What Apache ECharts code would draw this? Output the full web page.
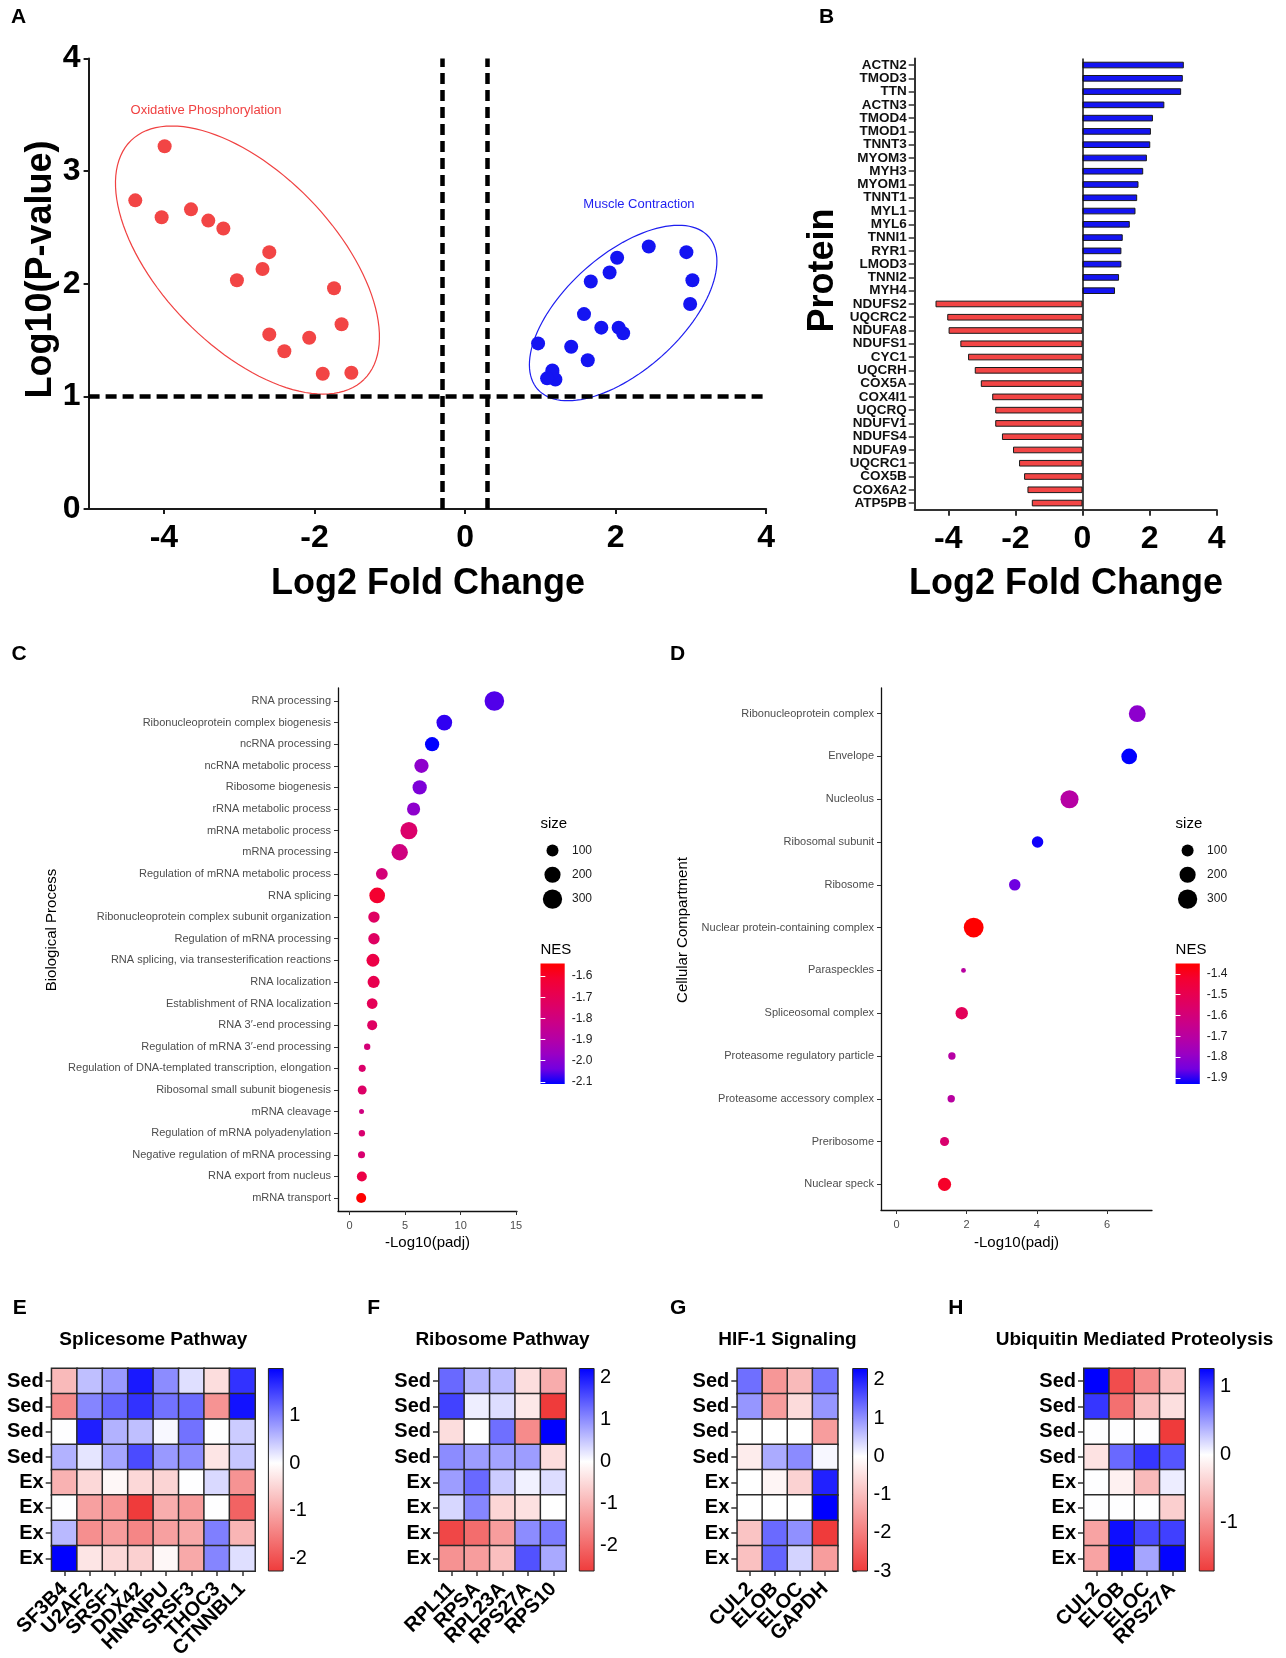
<!DOCTYPE html>
<html>
<head>
<meta charset="utf-8">
<title>Proteomic and pathway analysis</title>
<script src="https://cdn.jsdelivr.net/npm/echarts@6/dist/echarts.min.js"></script>
<style>
  html, body { margin: 0; padding: 0; background: #ffffff; }
  #chart { width: 1286px; height: 1658px; }
</style>
</head>
<body>
<div id="chart"></div>
<script>
// ---------- A / B: differentially abundant proteins ----------
const proteins = ['ACTN2','TMOD3','TTN','ACTN3','TMOD4','TMOD1','TNNT3','MYOM3','MYH3','MYOM1','TNNT1','MYL1','MYL6','TNNI1','RYR1','LMOD3','TNNI2','MYH4',
  'NDUFS2','UQCRC2','NDUFA8','NDUFS1','CYC1','UQCRH','COX5A','COX4I1','UQCRQ','NDUFV1','NDUFS4','NDUFA9','UQCRC1','COX5B','COX6A2','ATP5PB'];
const log2FC = [3.02, 2.99, 2.94, 2.44, 2.10, 2.04, 2.02, 1.92, 1.81, 1.67, 1.63, 1.58, 1.41, 1.20, 1.16, 1.16, 1.09, 0.97,
  -4.38, -4.03, -3.99, -3.64, -3.41, -3.21, -3.03, -2.69, -2.60, -2.60, -2.40, -2.07, -1.89, -1.74, -1.64, -1.51];
const log10P = [2.03, 1.82, 2.28, 2.33, 1.56, 1.61, 2.23, 2.10, 1.61, 2.02, 1.32, 1.73, 1.44, 1.15, 1.23, 1.21, 1.16, 1.47,
  2.74, 2.59, 3.22, 2.66, 2.56, 2.49, 2.03, 2.13, 2.28, 1.55, 1.40, 1.52, 1.20, 1.96, 1.64, 1.21];
const fcCutoff = 0.3;
const pCutoff = 1;
const fcTicks = [-4, -2, 0, 2, 4];

// enrichment clusters outlined on the volcano plot (data units)
const clusters = [
  { name: 'Oxidative Phosphorylation', center: [-2.89, 2.21], major: [1.548, -1.060], minor: [-0.823, -0.541], labelAt: [-3.44, 3.54], color: '#F04141' },
  { name: 'Muscle Contraction', center: [2.10, 1.74], major: [1.136, 0.677], minor: [0.510, -0.385], labelAt: [2.31, 2.70], color: '#1E1EF0' }
];

// ---------- C: GO biological process ----------
const bpTerms = ['RNA processing','Ribonucleoprotein complex biogenesis','ncRNA processing','ncRNA metabolic process','Ribosome biogenesis',
  'rRNA metabolic process','mRNA metabolic process','mRNA processing','Regulation of mRNA metabolic process','RNA splicing',
  'Ribonucleoprotein complex subunit organization','Regulation of mRNA processing','RNA splicing, via transesterification reactions',
  'RNA localization','Establishment of RNA localization','RNA 3\u2032-end processing','Regulation of mRNA 3\u2032-end processing',
  'Regulation of DNA-templated transcription, elongation','Ribosomal small subunit biogenesis','mRNA cleavage',
  'Regulation of mRNA polyadenylation','Negative regulation of mRNA processing','RNA export from nucleus','mRNA transport'];
const bpPadj = [13.04, 8.53, 7.43, 6.47, 6.31, 5.76, 5.34, 4.51, 2.90, 2.48, 2.19, 2.19, 2.10, 2.16, 2.03, 2.03, 1.58, 1.13, 1.13, 1.07, 1.10, 1.07, 1.10, 1.04];
const bpSize = [310, 188, 151, 151, 151, 125, 228, 207, 96, 188, 88, 88, 119, 102, 76, 64, 19, 26, 48, 9, 19, 26, 64, 64];
const bpNES = [-2.06, -2.08, -2.11, -1.99, -2.02, -1.99, -1.75, -1.80, -1.78, -1.61, -1.73, -1.73, -1.66, -1.68, -1.70, -1.73, -1.78, -1.75, -1.74, -1.80, -1.76, -1.76, -1.66, -1.54];
const bpTicks = [0, 5, 10, 15];
const bpNesTicks = [-2.1, -2.0, -1.9, -1.8, -1.7, -1.6];

// ---------- D: GO cellular compartment ----------
const ccTerms = ['Ribonucleoprotein complex','Envelope','Nucleolus','Ribosomal subunit','Ribosome','Nuclear protein-containing complex',
  'Paraspeckles','Spliceosomal complex','Proteasome regulatory particle','Proteasome accessory complex','Preribosome','Nuclear speck'];
const ccPadj = [6.86, 6.63, 4.93, 4.02, 3.37, 2.20, 1.91, 1.86, 1.58, 1.56, 1.37, 1.37];
const ccSize = [222, 188, 259, 90, 90, 317, 8, 108, 29, 29, 50, 125];
const ccNES = [-1.81, -1.93, -1.71, -1.92, -1.86, -1.35, -1.70, -1.52, -1.71, -1.70, -1.57, -1.41];
const ccTicks = [0, 2, 4, 6];
const ccNesTicks = [-1.9, -1.8, -1.7, -1.6, -1.5, -1.4];

const sizeLegend = [100, 200, 300];

// ---------- E-H: pathway heat maps (row z-scores) ----------
const sampleGroups = ['Sed', 'Sed', 'Sed', 'Sed', 'Ex', 'Ex', 'Ex', 'Ex'];

const spliceGenes = ['SF3B4', 'U2AF2', 'SRSF1', 'DDX42', 'HNRNPU', 'SRSF3', 'THOC3', 'CTNNBL1'];
const spliceZ = [
  [-0.80, 0.50, 0.80, 1.80, 0.90, 0.25, -0.40, 1.60],
  [-1.35, 0.95, 1.20, 1.60, 1.10, 1.15, -1.25, 1.85],
  [0.00, 1.75, 0.60, 0.50, 0.05, 1.10, 0.00, 0.40],
  [0.60, 0.20, 0.70, 1.40, 0.80, 0.90, -0.30, 0.45],
  [-0.90, -0.45, -0.10, -0.45, -0.50, 0.00, 0.30, -1.25],
  [0.00, -1.10, -1.20, -2.27, -0.95, -1.15, 0.00, -1.80],
  [0.55, -1.30, -1.15, -1.40, -1.10, -1.00, 1.00, -0.85],
  [1.99, -0.30, -0.45, -0.55, -0.10, -1.00, 0.95, 0.25]
];

const ribosomeGenes = ['RPL11', 'RPSA', 'RPL23A', 'RPS27A', 'RPS10'];
const ribosomeZ = [
  [1.30, 0.65, 0.60, -0.45, -1.10],
  [1.65, 0.15, 0.30, -0.30, -2.61],
  [-0.45, 0.00, 1.25, -1.55, 2.22],
  [1.00, 0.85, 0.80, 0.85, -0.45],
  [0.85, 1.30, 0.45, 0.12, 0.30],
  [0.35, 1.05, -0.55, -0.40, 0.00],
  [-2.45, -1.95, -1.30, 1.00, 1.15],
  [-1.45, -1.30, -0.85, 1.50, 0.75]
];

const hifGenes = ['CUL2', 'ELOB', 'ELOC', 'GAPDH'];
const hifZ = [
  [1.30, -1.60, -1.05, 1.25],
  [0.95, -1.50, -0.55, 0.95],
  [0.00, 0.00, 0.00, -1.50],
  [-0.30, 0.75, 1.05, 0.07],
  [0.00, -0.15, -0.70, 2.00],
  [0.00, 0.00, 0.00, 2.30],
  [-0.90, 1.35, 1.00, -3.00],
  [-0.95, 1.40, 0.40, -1.50]
];

const ubqGenes = ['CUL2', 'ELOB', 'ELOC', 'RPS27A'];
const ubqZ = [
  [1.27, -1.55, -1.00, -0.50],
  [1.00, -1.25, -0.55, -0.28],
  [0.00, 0.00, 0.00, -1.71],
  [-0.25, 0.75, 1.00, 0.85],
  [0.00, -0.12, -0.60, 0.09],
  [0.00, 0.00, 0.00, -0.42],
  [-0.80, 1.20, 0.90, 0.95],
  [-0.80, 1.25, 0.45, 1.25]
];

// ---------- styling ----------
const FONT = "'Liberation Sans', Arial, Helvetica, sans-serif";
const UP_COLOR = '#1414F2';
const DOWN_COLOR = '#F24545';
// red -> blue gradient interpolated in Lab space (blue end first)
const nesStops = ['#0000FF', '#7300E0', '#9A00C3', '#B500A5', '#C90089', '#DA006C', '#E8004F', '#F40031', '#FF0000'];
const HEAT_LOW = [239, 59, 59];
const HEAT_HIGH = [0, 0, 255];

function heatColor(v, lo, hi) {
  const end = v >= 0 ? HEAT_HIGH : HEAT_LOW;
  const t = v >= 0 ? (hi > 0 ? v / hi : 0) : (lo < 0 ? v / lo : 0);
  const k = Math.max(0, Math.min(1, t));
  const ch = i => Math.round(255 + (end[i] - 255) * k);
  return 'rgb(' + ch(0) + ',' + ch(1) + ',' + ch(2) + ')';
}
const sizeToDiameter = s => 2 + Math.sqrt(s);

const option = {
  animation: false,
  backgroundColor: '#ffffff',
  textStyle: { fontFamily: FONT },
  grid: [], xAxis: [], yAxis: [], series: [], visualMap: [], graphic: []
};
const push = (arr, item) => { arr.push(item); return arr.length - 1; };
const grid = (left, top, width, height) =>
  push(option.grid, { left, top, width, height, containLabel: false, outerBoundsMode: 'none' });

function text(str, x, y, size, opts) {
  opts = opts || {};
  option.graphic.push({
    type: 'text', x, y, silent: true, rotation: opts.rotate ? Math.PI / 2 : 0,
    style: {
      text: str, fill: opts.color || '#000',
      font: (opts.weight || 'normal') + ' ' + size + 'px ' + FONT,
      align: opts.align || 'center', verticalAlign: 'middle'
    }
  });
}

// ---------- A: volcano plot ----------
const gA = grid(88.6, 58.4, 677.6, 450.6);
const xA = push(option.xAxis, {
  gridIndex: gA, type: 'value', min: -5, max: 4,
  axisLine: { show: true, onZero: false, lineStyle: { color: '#1a1a1a', width: 2 } },
  axisTick: { show: true, customValues: fcTicks, length: 5, lineStyle: { color: '#1a1a1a', width: 2 } },
  axisLabel: { customValues: fcTicks, fontSize: 32, fontWeight: 'bold', color: '#000', margin: 13, fontFamily: FONT },
  splitLine: { show: false }
});
const yA = push(option.yAxis, {
  gridIndex: gA, type: 'value', min: 0, max: 4, interval: 1,
  axisLine: { show: true, onZero: false, lineStyle: { color: '#1a1a1a', width: 2 } },
  axisTick: { show: true, length: 5, lineStyle: { color: '#1a1a1a', width: 2 } },
  axisLabel: { fontSize: 32, fontWeight: 'bold', color: '#000', margin: 8, fontFamily: FONT },
  splitLine: { show: false }
});
push(option.series, {
  type: 'custom', xAxisIndex: xA, yAxisIndex: yA, silent: true, z: 1,
  data: clusters.map(c => c.center),
  renderItem: (params, api) => {
    const c = clusters[params.dataIndex];
    const pts = [];
    for (let k = 0; k <= 120; k++) {
      const t = k / 120 * Math.PI * 2;
      pts.push(api.coord([
        c.center[0] + c.major[0] * Math.cos(t) + c.minor[0] * Math.sin(t),
        c.center[1] + c.major[1] * Math.cos(t) + c.minor[1] * Math.sin(t)
      ]));
    }
    const lp = api.coord(c.labelAt);
    return {
      type: 'group', children: [
        { type: 'polyline', shape: { points: pts }, style: { fill: null, stroke: c.color, lineWidth: 1.2 } },
        { type: 'text', x: lp[0], y: lp[1], style: { text: c.name, fill: c.color, font: '13px ' + FONT, align: 'center', verticalAlign: 'middle' } }
      ]
    };
  }
});
push(option.series, {
  type: 'scatter', xAxisIndex: xA, yAxisIndex: yA, symbolSize: 14, z: 3,
  emphasis: { disabled: true },
  data: proteins.map((p, i) => ({ name: p, value: [log2FC[i], log10P[i]] })),
  itemStyle: { color: p => (p.value[0] > 0 ? UP_COLOR : DOWN_COLOR), opacity: 1 },
  markLine: {
    silent: true, symbol: 'none', animation: false, label: { show: false },
    lineStyle: { color: '#000', width: 4.5, type: [11, 6] },
    emphasis: { disabled: true },
    data: [{ yAxis: pCutoff }, { xAxis: -fcCutoff }, { xAxis: fcCutoff }]
  }
});
text('Log2 Fold Change', 428, 583.7, 36, { weight: 'bold' });
text('Log10(P-value)', 41, 269.5, 36, { weight: 'bold', rotate: true });
text('A', 11, 17.5, 21, { weight: 'bold', align: 'left' });

// ---------- B: fold-change bars ----------
const gB = grid(914.7, 58.4, 302, 451.3);
const xB = push(option.xAxis, {
  gridIndex: gB, type: 'value', min: -5, max: 4,
  axisLine: { show: true, onZero: false, lineStyle: { color: '#333', width: 2 } },
  axisTick: { show: true, customValues: fcTicks, length: 6, lineStyle: { color: '#333', width: 2 } },
  axisLabel: { customValues: fcTicks, fontSize: 32, fontWeight: 'bold', color: '#000', margin: 13, fontFamily: FONT },
  splitLine: { show: false }
});
const yB = push(option.yAxis, {
  gridIndex: gB, type: 'category', data: proteins, inverse: true,
  axisLine: { show: true, onZero: false, lineStyle: { color: '#333', width: 2 } },
  axisTick: { show: true, alignWithLabel: true, length: 6, lineStyle: { color: '#333', width: 1.5 } },
  axisLabel: { interval: 0, fontSize: 13.5, fontWeight: 'bold', color: '#111', margin: 8, fontFamily: FONT },
  splitLine: { show: false }
});
push(option.series, {
  type: 'bar', xAxisIndex: xB, yAxisIndex: yB, barWidth: '50%',
  emphasis: { disabled: true },
  data: log2FC,
  itemStyle: { color: p => (p.value > 0 ? UP_COLOR : DOWN_COLOR), borderColor: '#1a1a1a', borderWidth: 1 },
  markLine: {
    silent: true, symbol: 'none', animation: false, label: { show: false },
    lineStyle: { color: '#111', width: 1.5, type: 'solid' },
    emphasis: { disabled: true },
    data: [{ xAxis: 0 }]
  }
});
text('Log2 Fold Change', 1066, 583.7, 36, { weight: 'bold' });
text('Protein', 823, 270.5, 36, { weight: 'bold', rotate: true });
text('B', 819, 17.5, 21, { weight: 'bold', align: 'left' });

// ---------- C / D: GSEA dot plots ----------
function nesColorbar(left, top, width, height, lo, hi, ticks) {
  const g = grid(left, top, width, height);
  const x = push(option.xAxis, { gridIndex: g, type: 'value', min: 0, max: 1, show: false });
  const tickStyle = { show: true, inside: true, length: width / 5, customValues: ticks, lineStyle: { color: '#fff', width: 1 } };
  const yR = push(option.yAxis, {
    gridIndex: g, type: 'value', min: lo, max: hi, position: 'right', z: 10,
    axisLine: { show: false }, splitLine: { show: false }, axisTick: tickStyle,
    axisLabel: { customValues: ticks, formatter: v => v.toFixed(1), fontSize: 12, color: '#1a1a1a', margin: 7, fontFamily: FONT }
  });
  push(option.yAxis, {
    gridIndex: g, type: 'value', min: lo, max: hi, position: 'left', z: 10,
    axisLine: { show: false }, splitLine: { show: false }, axisLabel: { show: false }, axisTick: tickStyle
  });
  push(option.series, {
    type: 'custom', xAxisIndex: x, yAxisIndex: yR, silent: true, z: 1,
    data: [[0.5, (lo + hi) / 2]],
    renderItem: params => ({
      type: 'rect',
      shape: { x: params.coordSys.x, y: params.coordSys.y, width: params.coordSys.width, height: params.coordSys.height },
      style: { fill: new echarts.graphic.LinearGradient(0, 1, 0, 0, nesStops.map((c, i) => ({ offset: i / (nesStops.length - 1), color: c }))) }
    })
  });
}

function dotPanel(cfg) {
  const g = grid(cfg.left, 688, cfg.width, cfg.height);
  const x = push(option.xAxis, {
    gridIndex: g, type: 'value', min: cfg.xMin, max: cfg.xMax,
    axisLine: { show: true, onZero: false, lineStyle: { color: '#111', width: 1.3 } },
    axisTick: { show: true, customValues: cfg.ticks, length: 4, lineStyle: { color: '#333', width: 1 } },
    axisLabel: { customValues: cfg.ticks, fontSize: 11, color: '#4d4d4d', margin: 9, fontFamily: FONT },
    splitLine: { show: false }
  });
  const idx = cfg.terms.map((t, i) => i);
  const y = push(option.yAxis, {
    gridIndex: g, type: 'value', inverse: true, min: -0.6, max: cfg.terms.length - 0.4,
    axisLine: { show: true, onZero: false, lineStyle: { color: '#111', width: 1.3 } },
    axisTick: { show: true, customValues: idx, length: 4, lineStyle: { color: '#333', width: 1 } },
    axisLabel: { customValues: idx, formatter: v => cfg.terms[Math.round(v)], fontSize: 11, color: '#4d4d4d', margin: 7, fontFamily: FONT },
    splitLine: { show: false }
  });
  const lo = Math.min(...cfg.nes), hi = Math.max(...cfg.nes);
  const s = push(option.series, {
    type: 'scatter', xAxisIndex: x, yAxisIndex: y, emphasis: { disabled: true },
    data: cfg.terms.map((t, i) => ({ name: t, value: [cfg.padj[i], i, cfg.size[i], cfg.nes[i]] })),
    symbolSize: v => sizeToDiameter(v[2]),
    itemStyle: { opacity: 1 }
  });
  option.visualMap.push({ type: 'continuous', show: false, seriesIndex: s, dimension: 3, min: lo, max: hi, inRange: { color: nesStops } });

  // legends
  const lx = cfg.legendX;
  text('size', lx, 824, 15, { align: 'left' });
  sizeLegend.forEach((v, i) => {
    const cy = 850.5 + i * 24.3;
    option.graphic.push({ type: 'circle', silent: true, shape: { cx: lx + 12, cy, r: sizeToDiameter(v) / 2 }, style: { fill: '#000' } });
    text(String(v), lx + 31.5, cy, 12, { align: 'left', color: '#1a1a1a' });
  });
  text('NES', lx, 949.5, 15, { align: 'left' });
  nesColorbar(lx, 963.5, 24.2, 120.5, lo, hi, cfg.nesTicks);

  text('-Log10(padj)', cfg.left + cfg.width / 2, 1242.7, 15);
  text(cfg.yTitle, cfg.yTitleX, 930, 15, { rotate: true });
}

dotPanel({ left: 338, width: 179, height: 523, xMin: -1.05, xMax: 15.08, ticks: bpTicks, terms: bpTerms, padj: bpPadj, size: bpSize, nes: bpNES,
  nesTicks: bpNesTicks, legendX: 540.5, yTitle: 'Biological Process', yTitleX: 51.8 });
dotPanel({ left: 881, width: 271, height: 522, xMin: -0.44, xMax: 7.28, ticks: ccTicks, terms: ccTerms, padj: ccPadj, size: ccSize, nes: ccNES,
  nesTicks: ccNesTicks, legendX: 1175.6, yTitle: 'Cellular Compartment', yTitleX: 682.4 });
text('C', 11.4, 654, 21, { weight: 'bold', align: 'left' });
text('D', 670, 654.5, 21, { weight: 'bold', align: 'left' });

// ---------- E-H: heat maps ----------
function heatPanel(cfg) {
  const top = 1368.5, height = 202.5;
  const g = grid(cfg.left, top, cfg.width, height);
  const x = push(option.xAxis, {
    gridIndex: g, type: 'category', data: cfg.genes,
    axisLine: { show: true, lineStyle: { color: '#333', width: 1 } },
    axisTick: { show: true, alignWithLabel: true, length: 5, lineStyle: { color: '#333', width: 1.5 } },
    axisLabel: { interval: 0, rotate: 45, fontSize: 20, fontWeight: 'bold', color: '#000', margin: 15, fontFamily: FONT },
    splitLine: { show: false }
  });
  const y = push(option.yAxis, {
    gridIndex: g, type: 'category', data: sampleGroups, inverse: true,
    axisLine: { show: true, lineStyle: { color: '#333', width: 1 } },
    axisTick: { show: true, alignWithLabel: true, length: 6, lineStyle: { color: '#333', width: 1.5 } },
    axisLabel: { interval: 0, fontSize: 20, fontWeight: 'bold', color: '#000', margin: 8, fontFamily: FONT },
    splitLine: { show: false }
  });
  const cells = [];
  cfg.z.forEach((row, r) => row.forEach((v, c) => cells.push([c, r, v])));
  const vals = cells.map(d => d[2]);
  const lo = Math.min(...vals), hi = Math.max(...vals);
  const s = push(option.series, {
    type: 'heatmap', xAxisIndex: x, yAxisIndex: y, data: cells,
    emphasis: { disabled: true },
    itemStyle: { borderColor: '#2a2a2a', borderWidth: 1.5 }
  });
  const steps = [];
  for (let i = 0; i <= 200; i++) steps.push(heatColor(lo + (hi - lo) * i / 200, lo, hi));
  option.visualMap.push({ type: 'continuous', show: false, seriesIndex: s, dimension: 2, min: lo, max: hi, inRange: { color: steps } });

  // colour scale
  const gc = grid(cfg.cbarLeft, top, 14.8, height);
  const cx = push(option.xAxis, { gridIndex: gc, type: 'value', min: 0, max: 1, show: false });
  const cy = push(option.yAxis, {
    gridIndex: gc, type: 'value', min: lo, max: hi, position: 'right',
    axisLine: { show: false }, splitLine: { show: false },
    axisTick: { show: true, customValues: cfg.ticks, length: 4, lineStyle: { color: '#333', width: 1.2 } },
    axisLabel: { customValues: cfg.ticks, fontSize: 20, color: '#000', margin: 6, fontFamily: FONT }
  });
  const zeroAt = (0 - lo) / (hi - lo);
  push(option.series, {
    type: 'custom', xAxisIndex: cx, yAxisIndex: cy, silent: true,
    data: [[0.5, (lo + hi) / 2]],
    renderItem: params => ({
      type: 'rect',
      shape: { x: params.coordSys.x, y: params.coordSys.y, width: params.coordSys.width, height: params.coordSys.height },
      style: {
        stroke: '#222', lineWidth: 1,
        fill: new echarts.graphic.LinearGradient(0, 1, 0, 0, [
          { offset: 0, color: heatColor(lo, lo, hi) },
          { offset: zeroAt, color: '#ffffff' },
          { offset: 1, color: heatColor(hi, lo, hi) }
        ])
      }
    })
  });
  text(cfg.title, cfg.left + cfg.width / 2, 1339.3, 19, { weight: 'bold' });
  text(cfg.letter, cfg.letterX, 1308.5, 21, { weight: 'bold', align: 'left' });
}

heatPanel({ title: 'Splicesome Pathway', genes: spliceGenes, z: spliceZ, left: 51.7, width: 203.3, cbarLeft: 268.4, ticks: [-2, -1, 0, 1], letter: 'E', letterX: 12.7 });
heatPanel({ title: 'Ribosome Pathway', genes: ribosomeGenes, z: ribosomeZ, left: 439, width: 127, cbarLeft: 579.3, ticks: [-2, -1, 0, 1, 2], letter: 'F', letterX: 367.3 });
heatPanel({ title: 'HIF-1 Signaling', genes: hifGenes, z: hifZ, left: 737.3, width: 100.4, cbarLeft: 852.7, ticks: [-3, -2, -1, 0, 1, 2], letter: 'G', letterX: 670 });
heatPanel({ title: 'Ubiquitin Mediated Proteolysis', genes: ubqGenes, z: ubqZ, left: 1084, width: 101, cbarLeft: 1199.3, ticks: [-1, 0, 1], letter: 'H', letterX: 948.3 });

const chart = echarts.init(document.getElementById('chart'), null, { renderer: 'canvas', width: 1286, height: 1658 });
chart.setOption(option);
</script>
</body>
</html>
